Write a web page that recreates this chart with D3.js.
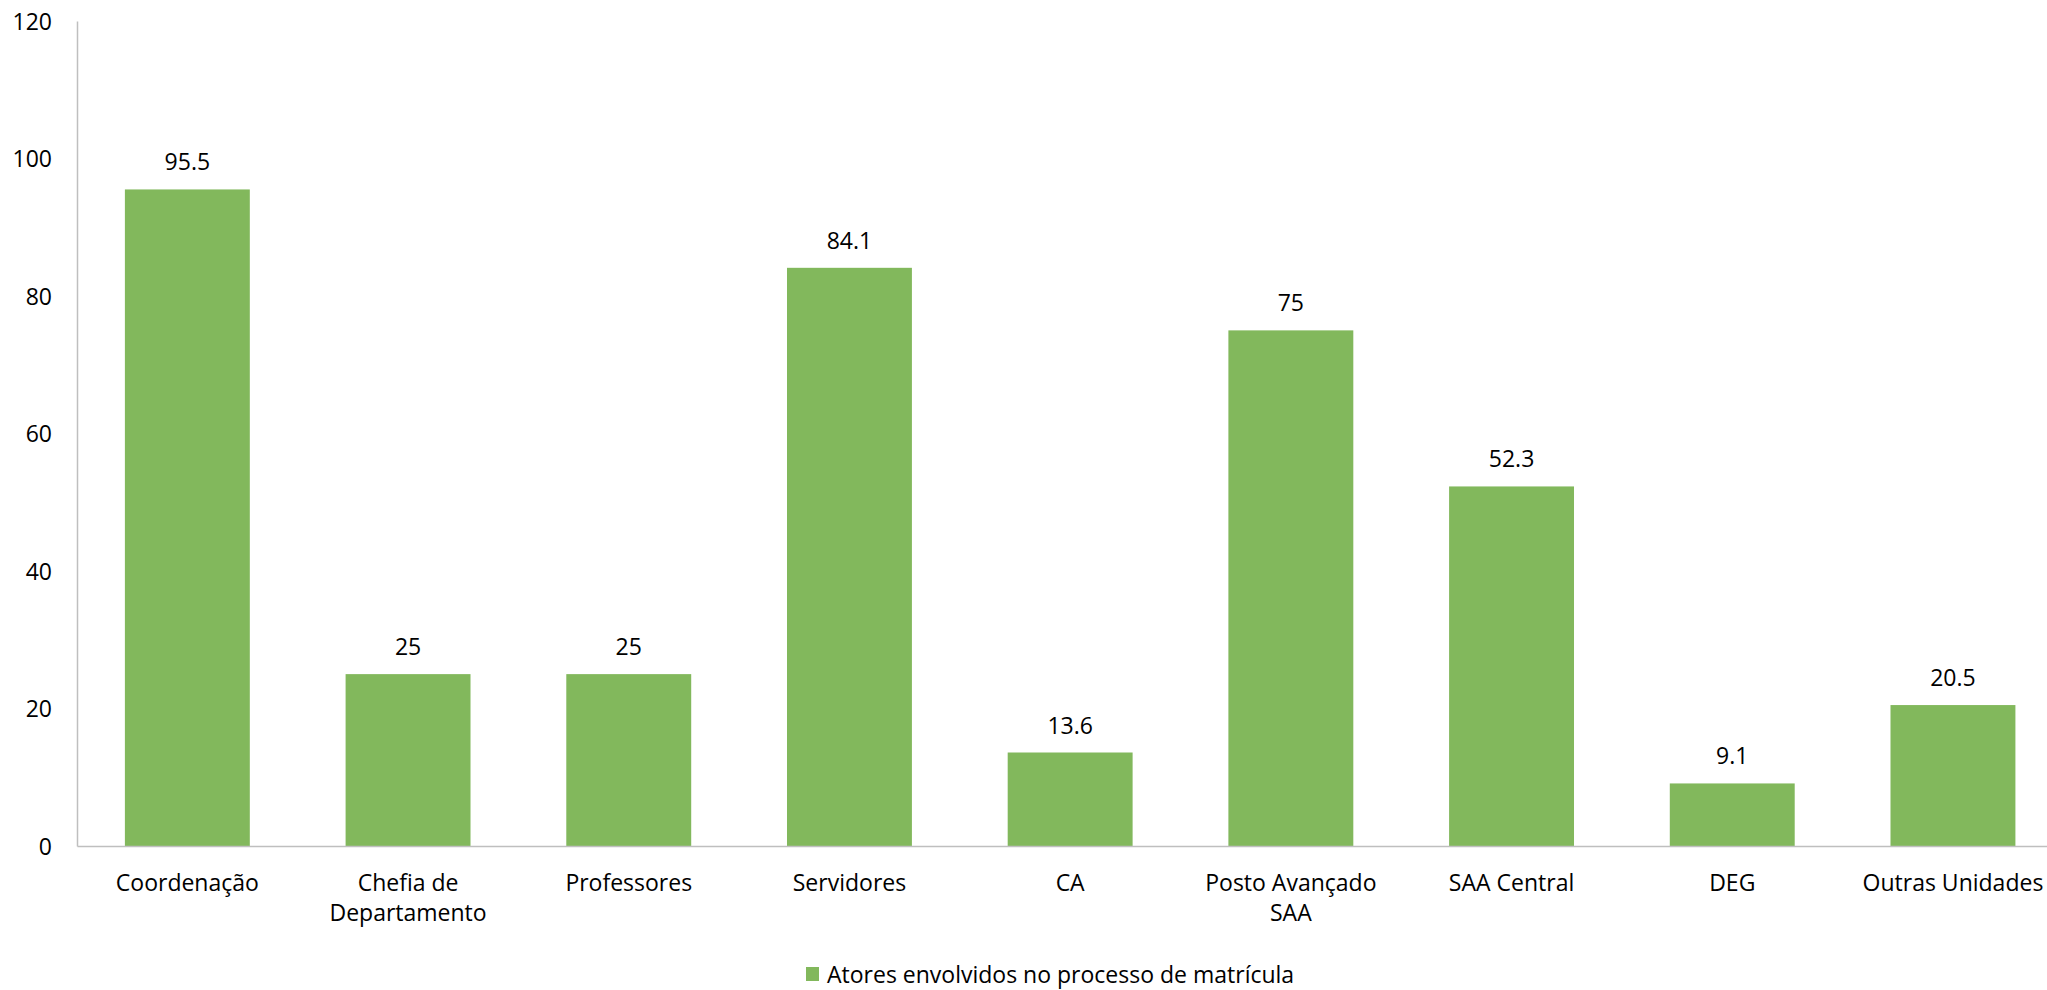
<!DOCTYPE html>
<html>
<head>
<meta charset="utf-8">
<script src="https://cdn.jsdelivr.net/npm/d3@7"></script>
<style>
  body { margin: 0; background: #fff; }
  text { font-family: "Open Sans", sans-serif; fill: #000; }
</style>
</head>
<body>
<div id="chart"></div>
<script>
// data
var categories = ["Coordenação", "Chefia de Departamento", "Professores", "Servidores", "CA",
                  "Posto Avançado SAA", "SAA Central", "DEG", "Outras Unidades"];
var values = [95.5, 25, 25, 84.1, 13.6, 75, 52.3, 9.1, 20.5];
var valueLabels = ["95.5", "25", "25", "84.1", "13.6", "75", "52.3", "9.1", "20.5"];
var yTicks = [0, 20, 40, 60, 80, 100, 120];
var seriesName = "Atores envolvidos no processo de matrícula";

var view_width = 2047, view_height = 990;
var margin = {top: 21, left: 77, bottom: 144, right: 0};
var step = 220.7;
var width = step * categories.length;
var height = view_height - margin.top - margin.bottom;

var svg = d3.select('#chart')
    .append('svg')
        .attr('width', view_width)
        .attr('height', view_height);
var g = svg.append('g')
    .attr('transform', 'translate(' + margin.left + ',' + margin.top + ')');

var x_scale = d3.scaleBand()
    .domain(categories)
    .range([0, width])
    .paddingInner(0.434)
    .paddingOuter(0.217);
var y_scale = d3.scaleLinear()
    .domain([0, 120])
    .range([height, 0]);

// y axis
var y_axis = g.append('g')
    .call(d3.axisLeft(y_scale).tickValues(yTicks).tickSize(0).tickPadding(25));
y_axis.select('.domain').attr('stroke', '#BFBFBF').attr('stroke-width', 1.5);
y_axis.selectAll('text').style('font-size', '23px').attr('dy', '0.36em');

// bars
g.selectAll('rect.bar')
    .data(values)
    .enter().append('rect')
        .attr('class', 'bar')
        .attr('x', function(d, i) { return x_scale(categories[i]); })
        .attr('width', x_scale.bandwidth())
        .attr('y', function(d) { return y_scale(d); })
        .attr('height', function(d) { return height - y_scale(d); })
        .attr('fill', '#82B85C');

// value labels
g.selectAll('text.val')
    .data(values)
    .enter().append('text')
        .attr('class', 'val')
        .attr('x', function(d, i) { return x_scale(categories[i]) + x_scale.bandwidth() / 2; })
        .attr('y', function(d) { return y_scale(d) - 19; })
        .attr('text-anchor', 'middle')
        .style('font-size', '23px')
        .text(function(d, i) { return valueLabels[i]; });

// x axis
var x_axis = g.append('g')
    .attr('transform', 'translate(0,' + height + ')')
    .call(d3.axisBottom(x_scale).tickSize(0).tickPadding(0));
x_axis.select('.domain').attr('stroke', '#BFBFBF').attr('stroke-width', 1.5);
x_axis.selectAll('text')
    .style('font-size', '23px')
    .attr('y', 45)
    .attr('dy', 0)
    .call(wrap, 205);

// legend
var legend = svg.append('g')
    .attr('transform', 'translate(806,967)');
legend.append('rect')
    .attr('width', 13)
    .attr('height', 14)
    .attr('fill', '#82B85C');
legend.append('text')
    .attr('x', 21)
    .attr('y', 16)
    .style('font-size', '23px')
    .text(seriesName);

function wrap(texts, maxw) {
    texts.each(function() {
        var text = d3.select(this);
        var words = text.text().split(/\s+/);
        var y = text.attr('y');
        text.text(null);
        var line = [];
        var lineNo = 0;
        var tspan = text.append('tspan').attr('x', 0).attr('y', y);
        words.forEach(function(w) {
            line.push(w);
            tspan.text(line.join(' '));
            if (tspan.node().getComputedTextLength() > maxw && line.length > 1) {
                line.pop();
                tspan.text(line.join(' '));
                line = [w];
                lineNo++;
                tspan = text.append('tspan').attr('x', 0).attr('y', +y + lineNo * 30).text(w);
            }
        });
    });
}
</script>
</body>
</html>
